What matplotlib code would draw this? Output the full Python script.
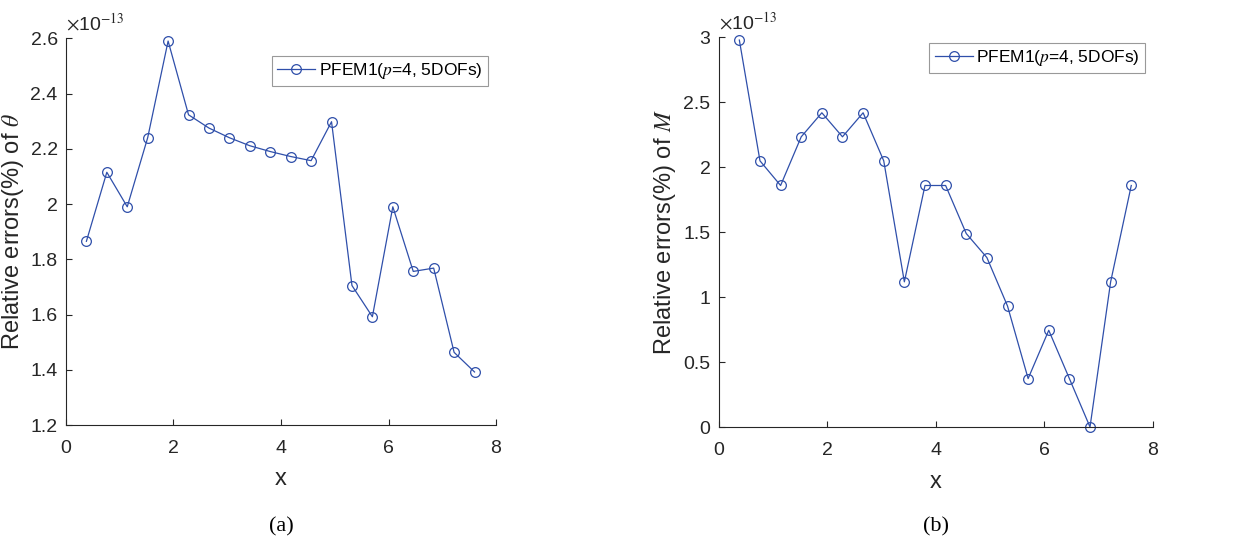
import matplotlib
matplotlib.use('Agg')
import matplotlib.pyplot as plt
from matplotlib.ticker import FuncFormatter
from matplotlib.transforms import blended_transform_factory

plt.rcParams['font.family'] = ['Liberation Sans', 'DejaVu Sans']
plt.rcParams['mathtext.fontset'] = 'stix'

# data (errors in units of 1e-13)
x = [0.38, 0.76, 1.14, 1.52, 1.90, 2.28, 2.66, 3.04, 3.42, 3.80,
     4.18, 4.56, 4.94, 5.32, 5.70, 6.08, 6.46, 6.84, 7.22, 7.60]
err_theta = [1.865, 2.115, 1.990, 2.240, 2.590, 2.323, 2.275, 2.240, 2.211, 2.190,
             2.172, 2.157, 2.298, 1.705, 1.592, 1.990, 1.756, 1.768, 1.463, 1.392]
err_M = [2.980, 2.050, 1.860, 2.235, 2.420, 2.235, 2.420, 2.050, 1.118, 1.860,
         1.860, 1.490, 1.305, 0.932, 0.373, 0.745, 0.373, 0.000, 1.118, 1.860]
legend_label = 'PFEM1($p$=4, 5DOFs)'

line_color = '#2F4FAA'
axis_color = '#262626'

fig = plt.figure(figsize=(12.33, 5.43), dpi=100)


def make_panel(rect, yvals, ylim, yticks, ylabel, leg_anchor, caption):
    ax = fig.add_axes(rect)
    ax.plot(x, yvals, color=line_color, linewidth=0.9, marker='o',
            markersize=7, markerfacecolor='none', markeredgewidth=0.9,
            label=legend_label, clip_on=False)
    ax.set_xlim(0, 8)
    ax.set_ylim(*ylim)
    ax.set_xticks([0, 2, 4, 6, 8])
    ax.set_yticks(yticks)
    ax.yaxis.set_major_formatter(FuncFormatter(lambda v, p: '%g' % round(v, 3)))
    for s in ['top', 'right']:
        ax.spines[s].set_visible(False)
    for s in ['left', 'bottom']:
        ax.spines[s].set_color(axis_color)
        ax.spines[s].set_linewidth(0.8)
    ax.tick_params(direction='in', length=4, width=0.8, colors=axis_color,
                   labelsize=14, pad=6)
    ax.tick_params(axis='x', pad=11)
    ax.set_xlabel('x', fontsize=17, color=axis_color)
    ax.set_ylabel(ylabel, fontsize=17, color=axis_color)
    ax.xaxis.set_label_coords(0.5, -0.112)
    ax.yaxis.set_label_coords(-0.094, 0.5)
    ax.text(0.0, 1.012, r'$\times$10$^{-13}$', transform=ax.transAxes,
            fontsize=14, color=axis_color, ha='left', va='bottom')
    leg = ax.legend(loc='upper right', bbox_to_anchor=leg_anchor, fontsize=12.5,
                    frameon=True, fancybox=False, handlelength=2.2,
                    handletextpad=0.2, borderpad=0.3, borderaxespad=0)
    leg.get_frame().set_edgecolor('#808080')
    leg.get_frame().set_linewidth(0.8)
    tr = blended_transform_factory(ax.transAxes, fig.transFigure)
    ax.text(0.5, 1 - 527 / 543, caption, transform=tr, ha='center',
            va='center', fontsize=16, family=['Liberation Serif'])
    return ax


make_panel([0.0535, 0.2173, 0.3488, 0.7122], err_theta, (1.2, 2.6),
           [1.2, 1.4, 1.6, 1.8, 2.0, 2.2, 2.4, 2.6],
           r'Relative errors(%) of $\theta$', (0.981, 0.954), '(a)')
make_panel([0.5829, 0.2136, 0.3522, 0.7174], err_M, (0, 3),
           [0, 0.5, 1, 1.5, 2, 2.5, 3],
           r'Relative errors(%) of $M$', (0.982, 0.986), '(b)')

fig.savefig('out.png', dpi=100)
